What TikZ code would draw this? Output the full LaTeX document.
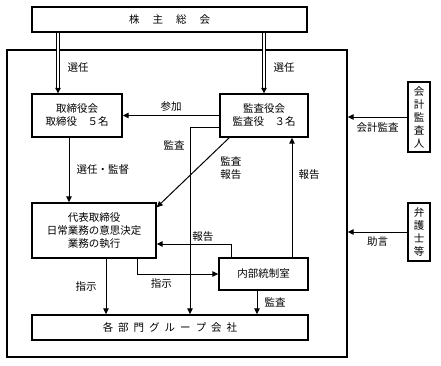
\documentclass[tikz,border=0pt]{standalone}
\usepackage{fontspec}
\newfontfamily\jpfont{Noto Sans CJK JP}
\usetikzlibrary{arrows.meta}

\begin{document}
\begin{tikzpicture}[x=1pt, y=-1pt,
  box/.style={draw, line width=1.4pt, inner sep=0pt, align=center,
    font=\jpfont\fontsize{10.5}{13}\selectfont},
  lbl/.style={inner sep=1pt, align=center,
    font=\jpfont\fontsize{10.5}{13}\selectfont},
  link/.style={line width=1pt, -{Triangle[length=6pt,width=5.5pt]}},
  dlink/.style={double=white, line width=1pt, double distance=1.6pt,
    -{Triangle[length=5.5pt,width=5.5pt]}}]

% Drawing window
\useasboundingbox (0,0) rectangle (441,365);

% Company frame
\node[draw, line width=1.4pt, minimum width=340pt, minimum height=307pt] (group) at (177,203.5) {};

% Boxes
\node[box, minimum width=275pt, minimum height=25pt] (kabu) at (169.5,19.5) {株\hspace{13pt}主\hspace{13pt}総\hspace{13pt}会};
\node[box, minimum width=90pt, minimum height=43pt] (torishimari) at (77,115.5) {取締役会\\取締役　５名};
\node[box, minimum width=88pt, minimum height=43pt] (kansayaku) at (264,115.5) {監査役会\\監査役　３名};
\node[box, minimum width=124pt, minimum height=55pt] (daihyo) at (94,230.5) {代表取締役\\日常業務の意思決定\\業務の執行};
\node[box, minimum width=89pt, minimum height=32pt] (naibu) at (263.5,274) {内部統制室};
\node[box, minimum width=276pt, minimum height=25pt] (bumon) at (170,327.5) {各\hspace{5pt}部\hspace{5pt}門\hspace{5pt}グ\hspace{5pt}ル\hspace{5pt}ー\hspace{5pt}プ\hspace{5pt}会\hspace{5pt}社};
\node[box, minimum width=22pt, minimum height=70pt] (kaikei) at (419,117) {会\\計\\監\\査\\人};
\node[box, minimum width=22pt, minimum height=58pt] (bengo) at (419,232) {弁\\護\\士\\等};

% Line positions
\coordinate (xa) at (58,0);
\coordinate (xk) at (69,0);
\coordinate (ka) at (190,127);
\coordinate (kd) at (230,137);
\coordinate (xr) at (292,0);
\coordinate (kl) at (231,244);
\coordinate (xs) at (106,0);
\coordinate (xt) at (137,0);
\coordinate (xm) at (257,0);

% Election
\draw[dlink] (kabu.south -| xa) -- (torishimari.north -| xa) node[lbl, pos=0.58, right=8pt] {選任};
\draw[dlink] (kabu.south -| kansayaku.north) -- (kansayaku.north) node[lbl, pos=0.58, right=8pt] {選任};

% Board lines
\draw[link] (kansayaku.west) -- (torishimari.east) node[lbl, midway, above=3pt] {参加};
\draw[link] (torishimari.south -| xk) -- (daihyo.north -| xk) node[lbl, midway, right=6pt] {選任・監督};
\draw[link] (kansayaku.west |- ka) -| (bumon.north -| ka) node[lbl, pos=0.55, left=4pt] {監査};
\draw[link] (kd) -- ([yshift=-5pt]daihyo.north east) node[lbl, pos=0.44, right=21pt] {監査\\報告};

% Internal control
\draw[link] (naibu.north -| xr) -- (kansayaku.south -| xr) node[lbl, pos=0.69, right=5pt] {報告};
\draw[link] (naibu.north -| kl) |- (daihyo.east |- kl) node[lbl, pos=0.69, above=1pt] {報告};
\draw[link] (daihyo.south -| xt) |- (naibu.west) node[lbl, pos=0.65, below=3pt] {指示};
\draw[link] (daihyo.south -| xs) -- (bumon.north -| xs) node[lbl, midway, left=8pt] {指示};
\draw[link] (naibu.south -| xm) -- (bumon.north -| xm) node[lbl, midway, right=6pt] {監査};

% Outside
\draw[link] (kaikei.west) -- (kaikei.west -| group.east) node[lbl, midway, below=4pt] {会計監査};
\draw[link] (bengo.west) -- (bengo.west -| group.east) node[lbl, midway, below=3pt] {助言};

\end{tikzpicture}
\end{document}
